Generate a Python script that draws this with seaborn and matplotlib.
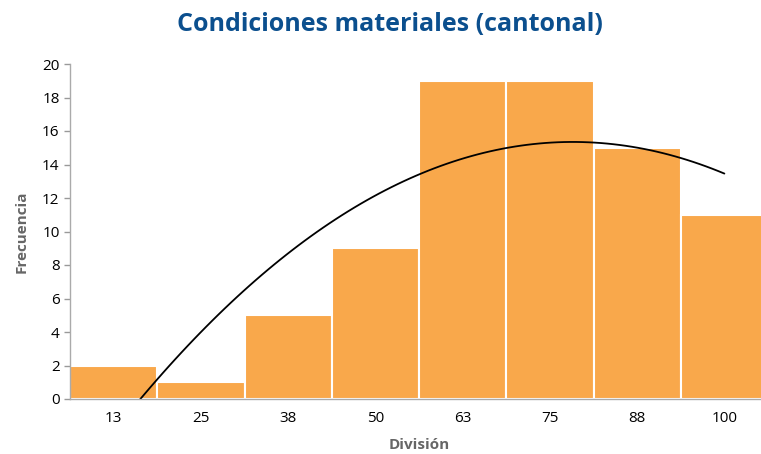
import matplotlib
matplotlib.use("Agg")
import matplotlib.pyplot as plt
import seaborn as sns
import pandas as pd
import numpy as np

categories = ["13", "25", "38", "50", "63", "75", "88", "100"]
frequencies = [2, 1, 5, 9, 19, 19, 15, 11]

sns.set_style("white")
plt.rcParams['font.family'] = ['Open Sans', 'DejaVu Sans']

df = pd.DataFrame({"Division": categories, "Frecuencia": frequencies,
                   "pos": np.arange(len(categories))})

fig = plt.figure(figsize=(7.61, 4.54), dpi=100)
ax = fig.add_axes([70 / 761, 55 / 454, 698 / 761, 335 / 454])

sns.barplot(data=df, x="Division", y="Frecuencia", order=categories,
            color="#F9A84B", saturation=1, width=1.0, edgecolor="white",
            linewidth=1.5, ax=ax)
# order-2 polynomial trend line of the frequencies
sns.regplot(data=df, x="pos", y="Frecuencia", order=2, ci=None, scatter=False,
            truncate=True, line_kws={"color": "black", "linewidth": 1.3}, ax=ax)

ax.set_xlim(-0.5, 7.5)
ax.set_ylim(0, 20)
ax.set_yticks(range(0, 21, 2))
ax.set_xticks(range(len(categories)))
ax.set_xticklabels(categories)
ax.set_xticks(np.arange(-0.5, len(categories), 1.0), minor=True)
ax.tick_params(axis="x", which="major", length=0, pad=9, labelsize=11, labelcolor="black")
ax.tick_params(axis="x", which="minor", length=4, color="#999999", width=1, direction="out")
ax.tick_params(axis="y", length=4, color="#999999", width=1, labelsize=11, labelcolor="black", direction="out", left=True)

for s in ["top", "right"]:
    ax.spines[s].set_visible(False)
for s in ["left", "bottom"]:
    ax.spines[s].set_color("#aaaaaa")
    ax.spines[s].set_linewidth(1)

ax.set_xlabel("División", fontsize=11, fontweight="bold", color="#666666", labelpad=8)
ax.set_ylabel("Frecuencia", fontsize=11, fontweight="bold", color="#666666", labelpad=10)

fig.text(0.512, 0.945, "Condiciones materiales (cantonal)", ha="center", va="center",
         fontsize=18, fontweight="bold", color="#0B4F8E",
         family=['Liberation Sans Narrow', 'Open Sans', 'DejaVu Sans'])

fig.savefig("out.png", dpi=100)
